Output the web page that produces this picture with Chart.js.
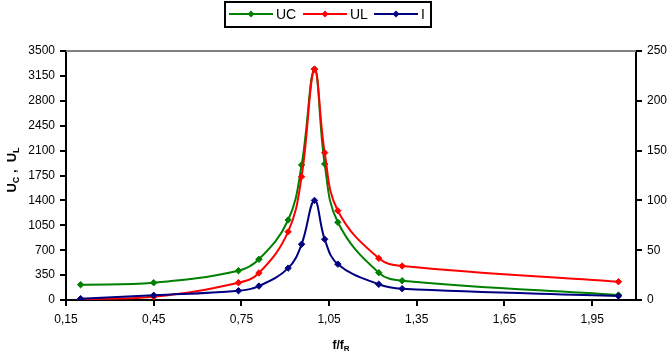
<!DOCTYPE html>
<html>
<head>
<meta charset="utf-8">
<script src="https://cdn.jsdelivr.net/npm/chart.js@4"></script>
<style>
html,body{margin:0;padding:0;background:#fff;}
#wrap{width:672px;height:359px;position:relative;}
</style>
</head>
<body>
<div id="wrap"><canvas id="c" width="672" height="359"></canvas></div>
<script>
// ---- data ----
const freqRatio = [0.2, 0.45, 0.74, 0.81, 0.91, 0.956, 1.0, 1.035, 1.08, 1.22, 1.3, 2.04];
const seriesUC = [215, 243, 412, 572, 1125, 1898, 3245, 1912, 1092, 384, 271, 70];
const seriesUL = [12, 45, 243, 380, 960, 1734, 3245, 2071, 1255, 586, 478, 257];
const seriesI  = [1.3, 4.7, 9.3, 14, 32, 56, 100, 61, 36, 15.8, 11.3, 4];
const seriesNames = ['UC', 'UL', 'I'];
const xTicks = [0.15, 0.45, 0.75, 1.05, 1.35, 1.65, 1.95];
const yLeftTicks = [0, 350, 700, 1050, 1400, 1750, 2100, 2450, 2800, 3150, 3500];
const yRightTicks = [0, 50, 100, 150, 200, 250];

const colors = ['#008000', '#FF0000', '#000080'];
const pts = arr => freqRatio.map((x, i) => ({x: x, y: arr[i]}));
const FONT = '"Liberation Sans", Arial, sans-serif';

function mkDataset(label, data, color, axis, order) {
  return {
    label, data: pts(data), yAxisID: axis, order,
    borderColor: color, backgroundColor: color,
    borderWidth: 2, pointStyle: 'rectRot', pointRadius: 3.2,
    pointBorderWidth: 1, tension: 0.4, fill: false
  };
}

const overlay = {
  id: 'overlay',
  beforeDatasetsDraw(chart) {
    const ctx = chart.ctx, a = chart.chartArea;
    ctx.save();
    ctx.strokeStyle = '#808080'; ctx.lineWidth = 2;
    ctx.beginPath(); ctx.moveTo(a.left, a.top); ctx.lineTo(a.right, a.top); ctx.stroke();
    ctx.restore();
  },
  afterDraw(chart) {
    const ctx = chart.ctx;
    ctx.save();
    // legend box
    ctx.strokeStyle = '#000'; ctx.lineWidth = 2;
    ctx.strokeRect(225, 2, 206, 25);
    const items = [
      {x0: 229, x1: 273, tx: 276},
      {x0: 303, x1: 347, tx: 350},
      {x0: 374, x1: 418, tx: 421}
    ];
    ctx.font = '14px ' + FONT; ctx.textBaseline = 'middle'; ctx.textAlign = 'left';
    items.forEach((it, i) => {
      ctx.strokeStyle = colors[i]; ctx.fillStyle = colors[i]; ctx.lineWidth = 2;
      ctx.beginPath(); ctx.moveTo(it.x0, 14); ctx.lineTo(it.x1, 14); ctx.stroke();
      const cx = (it.x0 + it.x1) / 2;
      ctx.beginPath(); ctx.moveTo(cx, 10.5); ctx.lineTo(cx + 3.5, 14); ctx.lineTo(cx, 17.5); ctx.lineTo(cx - 3.5, 14); ctx.closePath(); ctx.fill();
      ctx.fillStyle = '#000';
      ctx.fillText(seriesNames[i], it.tx, 15);
    });
    // y title with subscripts (rotated)
    ctx.save();
    ctx.translate(16, 170);
    ctx.rotate(-Math.PI / 2);
    const parts = [['U', 0], ['C', 1], [' ,  U', 0], ['L', 1]];
    let w = 0;
    parts.forEach(p => { ctx.font = 'bold ' + (p[1] ? 9 : 13) + 'px ' + FONT; w += ctx.measureText(p[0]).width; });
    let x = -w / 2;
    ctx.fillStyle = '#000'; ctx.textBaseline = 'alphabetic'; ctx.textAlign = 'left';
    parts.forEach(p => {
      ctx.font = 'bold ' + (p[1] ? 9 : 13) + 'px ' + FONT;
      ctx.fillText(p[0], x, p[1] ? 3 : 0);
      x += ctx.measureText(p[0]).width;
    });
    ctx.restore();
    // x title
    const xp = [['f/f', 0], ['R', 1]];
    w = 0;
    xp.forEach(p => { ctx.font = 'bold ' + (p[1] ? 8 : 12) + 'px ' + FONT; w += ctx.measureText(p[0]).width; });
    x = 341 - w / 2;
    xp.forEach(p => {
      ctx.font = 'bold ' + (p[1] ? 8 : 12) + 'px ' + FONT;
      ctx.fillText(p[0], x, p[1] ? 349 : 346);
      x += ctx.measureText(p[0]).width;
    });
    ctx.restore();
  }
};

const tickFont = {family: FONT, size: 12};
const axisCommon = {
  border: {color: '#000', width: 2},
  grid: {drawOnChartArea: false, drawTicks: true, tickLength: 6, color: '#000', lineWidth: 2},
};

new Chart(document.getElementById('c'), {
  type: 'line',
  data: {
    datasets: [
      mkDataset(seriesNames[0], seriesUC, colors[0], 'y', 3),
      mkDataset(seriesNames[1], seriesUL, colors[1], 'y', 2),
      mkDataset(seriesNames[2], seriesI, colors[2], 'y1', 1)
    ]
  },
  options: {
    responsive: false, animation: false, maintainAspectRatio: false,
    layout: {padding: {top: 51, left: 0, right: 0, bottom: 0}},
    plugins: {legend: {display: false}, tooltip: {enabled: false}},
    scales: {
      x: Object.assign({}, axisCommon, {
        type: 'linear', min: 0.15, max: 2.1,
        afterBuildTicks: s => { s.ticks = xTicks.map(v => ({value: v})); },
        afterFit: s => { s.height = 59; },
        ticks: {font: tickFont, color: '#000', padding: 6, maxRotation: 0,
          callback: v => v.toFixed(2).replace('.', ',')}
      }),
      y: Object.assign({}, axisCommon, {
        type: 'linear', position: 'left', min: 0, max: 3500,
        afterBuildTicks: s => { s.ticks = yLeftTicks.map(v => ({value: v})); },
        afterFit: s => { s.width = 66; },
        ticks: {font: tickFont, color: '#000', padding: 5, callback: v => String(v)}
      }),
      y1: Object.assign({}, axisCommon, {
        type: 'linear', position: 'right', min: 0, max: 250,
        afterBuildTicks: s => { s.ticks = yRightTicks.map(v => ({value: v})); },
        afterFit: s => { s.width = 36; },
        ticks: {font: tickFont, color: '#000', padding: 5, callback: v => String(v)}
      })
    }
  },
  plugins: [overlay]
});
</script>
</body>
</html>
